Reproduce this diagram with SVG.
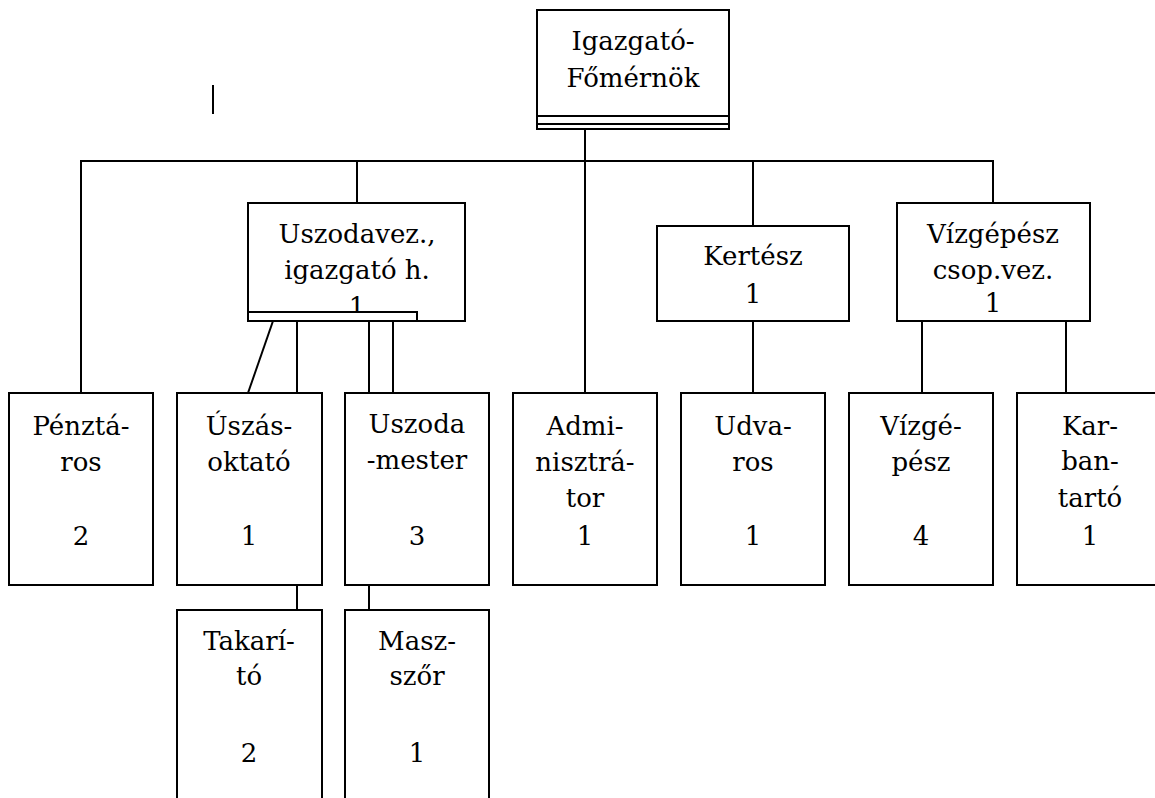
<svg xmlns="http://www.w3.org/2000/svg" width="1155" height="798" viewBox="0 0 1155 798">
<style>
.b{fill:#fff;stroke:#000;stroke-width:2}
.c{fill:none;stroke:#000;stroke-width:2}
text{font-family:'DejaVu Serif','Liberation Serif',serif;font-size:26px;fill:#000;text-anchor:middle}
</style>
<rect width="1155" height="798" fill="#fff"/>
<g id="connectors" class="c">
<line x1="585" y1="129" x2="585" y2="161"/>
<polyline points="81,393 81,161 993,161 993,203"/>
<line x1="357" y1="161" x2="357" y2="203"/>
<line x1="585" y1="161" x2="585" y2="393"/>
<line x1="753" y1="161" x2="753" y2="226"/>
<line x1="753" y1="321" x2="753" y2="393"/>
<line x1="273" y1="321" x2="248" y2="393"/>
<line x1="297" y1="321" x2="297" y2="393"/>
<line x1="369" y1="321" x2="369" y2="393"/>
<line x1="393" y1="321" x2="393" y2="393"/>
<line x1="922" y1="321" x2="922" y2="393"/>
<line x1="1066" y1="321" x2="1066" y2="393"/>
<line x1="297" y1="585" x2="297" y2="610"/>
<line x1="369" y1="585" x2="369" y2="610"/>
<line x1="213" y1="85" x2="213" y2="114"/>
</g>
<g id="igazgato">
<rect class="b" x="537" y="10" width="192" height="119"/>
<line class="c" x1="537" y1="116" x2="729" y2="116"/>
<line class="c" x1="537" y1="124" x2="729" y2="124"/>
<text x="633" y="50">Igazgató-</text>
<text x="633" y="87">Főmérnök</text>
</g>
<g id="uszodavez">
<rect class="b" x="248" y="203" width="217" height="118"/>
<text x="357" y="243">Uszodavez.,</text>
<text x="357" y="279">igazgató h.</text>
<text x="357" y="316">1</text>
<rect class="b" x="248" y="312" width="169" height="9"/>
</g>
<g id="kertesz">
<rect class="b" x="657" y="226" width="192" height="95"/>
<text x="753" y="265">Kertész</text>
<text x="753" y="303">1</text>
</g>
<g id="vizgepesz-csop">
<rect class="b" x="897" y="203" width="193" height="118"/>
<text x="993" y="243">Vízgépész</text>
<text x="993" y="279">csop.vez.</text>
<text x="993" y="312">1</text>
</g>
<g id="penztaros">
<rect class="b" x="9" y="393" width="144" height="192"/>
<text x="81" y="435">Pénztá-</text>
<text x="81" y="471">ros</text>
<text x="81" y="545">2</text>
</g>
<g id="uszasoktato">
<rect class="b" x="177" y="393" width="145" height="192"/>
<text x="249" y="435">Úszás-</text>
<text x="249" y="471">oktató</text>
<text x="249" y="545">1</text>
</g>
<g id="uszodamester">
<rect class="b" x="345" y="393" width="144" height="192"/>
<text x="417" y="433">Uszoda</text>
<text x="417" y="469">-mester</text>
<text x="417" y="545">3</text>
</g>
<g id="adminisztrator">
<rect class="b" x="513" y="393" width="144" height="192"/>
<text x="585" y="435">Admi-</text>
<text x="585" y="471">nisztrá-</text>
<text x="585" y="507">tor</text>
<text x="585" y="545">1</text>
</g>
<g id="udvaros">
<rect class="b" x="681" y="393" width="144" height="192"/>
<text x="753" y="435">Udva-</text>
<text x="753" y="471">ros</text>
<text x="753" y="545">1</text>
</g>
<g id="vizgepesz">
<rect class="b" x="849" y="393" width="144" height="192"/>
<text x="921" y="435">Vízgé-</text>
<text x="921" y="471">pész</text>
<text x="921" y="545">4</text>
</g>
<g id="karbantarto">
<rect class="b" x="1017" y="393" width="145" height="192"/>
<text x="1090" y="435">Kar-</text>
<text x="1090" y="470">ban-</text>
<text x="1090" y="507">tartó</text>
<text x="1090" y="545">1</text>
</g>
<g id="takarito">
<rect class="b" x="177" y="610" width="145" height="200"/>
<text x="249" y="650">Takarí-</text>
<text x="249" y="685">tó</text>
<text x="249" y="762">2</text>
</g>
<g id="maszor">
<rect class="b" x="345" y="610" width="144" height="200"/>
<text x="417" y="650">Masz-</text>
<text x="417" y="685">szőr</text>
<text x="417" y="762">1</text>
</g>
</svg>
